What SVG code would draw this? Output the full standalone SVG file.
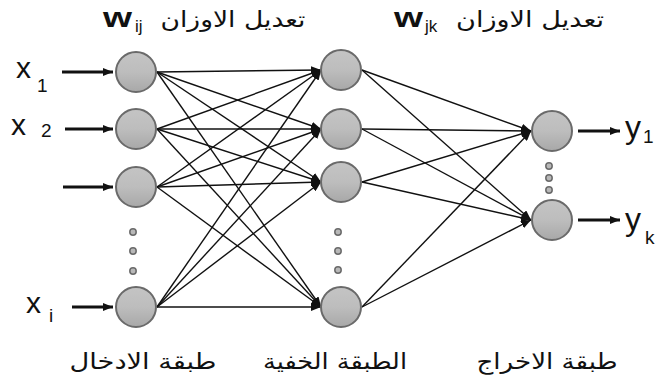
<svg xmlns="http://www.w3.org/2000/svg" width="662" height="387" viewBox="0 0 662 387">
<style>
.n{fill:url(#g);stroke:#6a6a6a;stroke-width:2}
.d{fill:#b8b8b8;stroke:#6a6a6a;stroke-width:1.5}
.c line{stroke:#111;stroke-width:1.4;marker-end:url(#a)}
.io line{stroke:#111;stroke-width:3;marker-end:url(#b)}
.t{font-family:"Liberation Sans",Arial,sans-serif;fill:#111}
.ar{font-family:"DejaVu Sans",sans-serif;font-size:22px;fill:#111;text-anchor:middle}
</style>
<defs>
<linearGradient id="g" x1="0" y1="0" x2="0" y2="1">
<stop offset="0" stop-color="#c4c4c4"/><stop offset="0.5" stop-color="#bdbdbd"/><stop offset="1" stop-color="#a8a8a8"/>
</linearGradient>
<marker id="a" viewBox="0 0 10 8" refX="10" refY="4" markerWidth="10" markerHeight="8" markerUnits="userSpaceOnUse" orient="auto"><path d="M0,0L10,4L0,8z" fill="#111"/></marker>
<marker id="b" viewBox="0 0 10 8" refX="10" refY="4" markerWidth="10" markerHeight="8" markerUnits="userSpaceOnUse" orient="auto"><path d="M0,0L10,4L0,8z" fill="#111"/></marker>
</defs>
<rect width="662" height="387" fill="#fff"/>
<g id="connectors">
<g class="c">
<line x1="157" y1="72" x2="321" y2="70"/><line x1="157" y1="72" x2="321" y2="129"/><line x1="157" y1="72" x2="321" y2="182"/><line x1="157" y1="72" x2="321" y2="307"/>
<line x1="157" y1="129" x2="321" y2="70"/><line x1="157" y1="129" x2="321" y2="129"/><line x1="157" y1="129" x2="321" y2="182"/><line x1="157" y1="129" x2="321" y2="307"/>
<line x1="157" y1="187" x2="321" y2="70"/><line x1="157" y1="187" x2="321" y2="129"/><line x1="157" y1="187" x2="321" y2="182"/><line x1="157" y1="187" x2="321" y2="307"/>
<line x1="157" y1="307" x2="321" y2="70"/><line x1="157" y1="307" x2="321" y2="129"/><line x1="157" y1="307" x2="321" y2="182"/><line x1="157" y1="307" x2="321" y2="307"/>
<line x1="362" y1="70" x2="531" y2="131"/><line x1="362" y1="70" x2="531" y2="220"/>
<line x1="362" y1="129" x2="531" y2="131"/><line x1="362" y1="129" x2="531" y2="220"/>
<line x1="362" y1="182" x2="531" y2="131"/><line x1="362" y1="182" x2="531" y2="220"/>
<line x1="362" y1="307" x2="531" y2="131"/><line x1="362" y1="307" x2="531" y2="220"/>
</g>
<g class="io">
<line x1="62" y1="72" x2="113" y2="72"/><line x1="65" y1="129" x2="113" y2="129"/><line x1="63" y1="187" x2="113" y2="187"/><line x1="72" y1="307" x2="113" y2="307"/>
<line x1="578" y1="131" x2="620" y2="131"/><line x1="578" y1="220" x2="620" y2="220"/>
</g>
</g>
<g id="input-layer">
<circle class="n" cx="136" cy="72" r="20"/>
<circle class="n" cx="136" cy="129" r="20"/>
<circle class="n" cx="136" cy="187" r="20"/>
<circle class="d" cx="133" cy="232" r="3.2"/><circle class="d" cx="133" cy="251" r="3.2"/><circle class="d" cx="133" cy="271" r="3.2"/>
<circle class="n" cx="136" cy="307" r="20"/>
</g>
<g id="hidden-layer">
<circle class="n" cx="341" cy="70" r="20"/>
<circle class="n" cx="341" cy="129" r="20"/>
<circle class="n" cx="341" cy="182" r="20"/>
<circle class="d" cx="338" cy="232" r="3.2"/><circle class="d" cx="338" cy="251" r="3.2"/><circle class="d" cx="338" cy="270" r="3.2"/>
<circle class="n" cx="341" cy="307" r="20"/>
</g>
<g id="output-layer">
<circle class="n" cx="552" cy="131" r="20"/>
<circle class="d" cx="549" cy="166" r="3.2"/><circle class="d" cx="549" cy="178" r="3.2"/><circle class="d" cx="549" cy="190" r="3.2"/>
<circle class="n" cx="552" cy="220" r="20"/>
</g>
<g id="labels">
<text class="t" x="16" y="78" font-size="30">x</text><text class="t" x="37" y="92" font-size="19">1</text>
<text class="t" x="11" y="135" font-size="30">x</text><text class="t" x="41" y="137" font-size="19">2</text>
<text class="t" x="26" y="313" font-size="30">x</text><text class="t" x="49" y="322" font-size="19">i</text>
<text class="t" x="625" y="138" font-size="32">y</text><text class="t" x="643" y="143" font-size="19">1</text>
<text class="t" x="625" y="230" font-size="32">y</text><text class="t" x="645" y="244" font-size="19">k</text>
<text class="t" x="103" y="27" font-size="27" font-weight="bold" textLength="29" lengthAdjust="spacingAndGlyphs">w</text><text class="t" x="135" y="32" font-size="17">ij</text>
<text class="t" x="394" y="27" font-size="27" font-weight="bold" textLength="29" lengthAdjust="spacingAndGlyphs">w</text><text class="t" x="425" y="32" font-size="17">jk</text>
<text class="ar" x="233" y="27" textLength="145" lengthAdjust="spacingAndGlyphs">تعديل الاوزان</text>
<text class="ar" x="530" y="27" textLength="148" lengthAdjust="spacingAndGlyphs">تعديل الاوزان</text>
<text class="ar" x="143" y="369" textLength="147" lengthAdjust="spacingAndGlyphs">طبقة الادخال</text>
<text class="ar" x="335" y="369" textLength="144" lengthAdjust="spacingAndGlyphs">الطبقة الخفية</text>
<text class="ar" x="547" y="369" textLength="141" lengthAdjust="spacingAndGlyphs">طبقة الاخراج</text>
</g>
</svg>
